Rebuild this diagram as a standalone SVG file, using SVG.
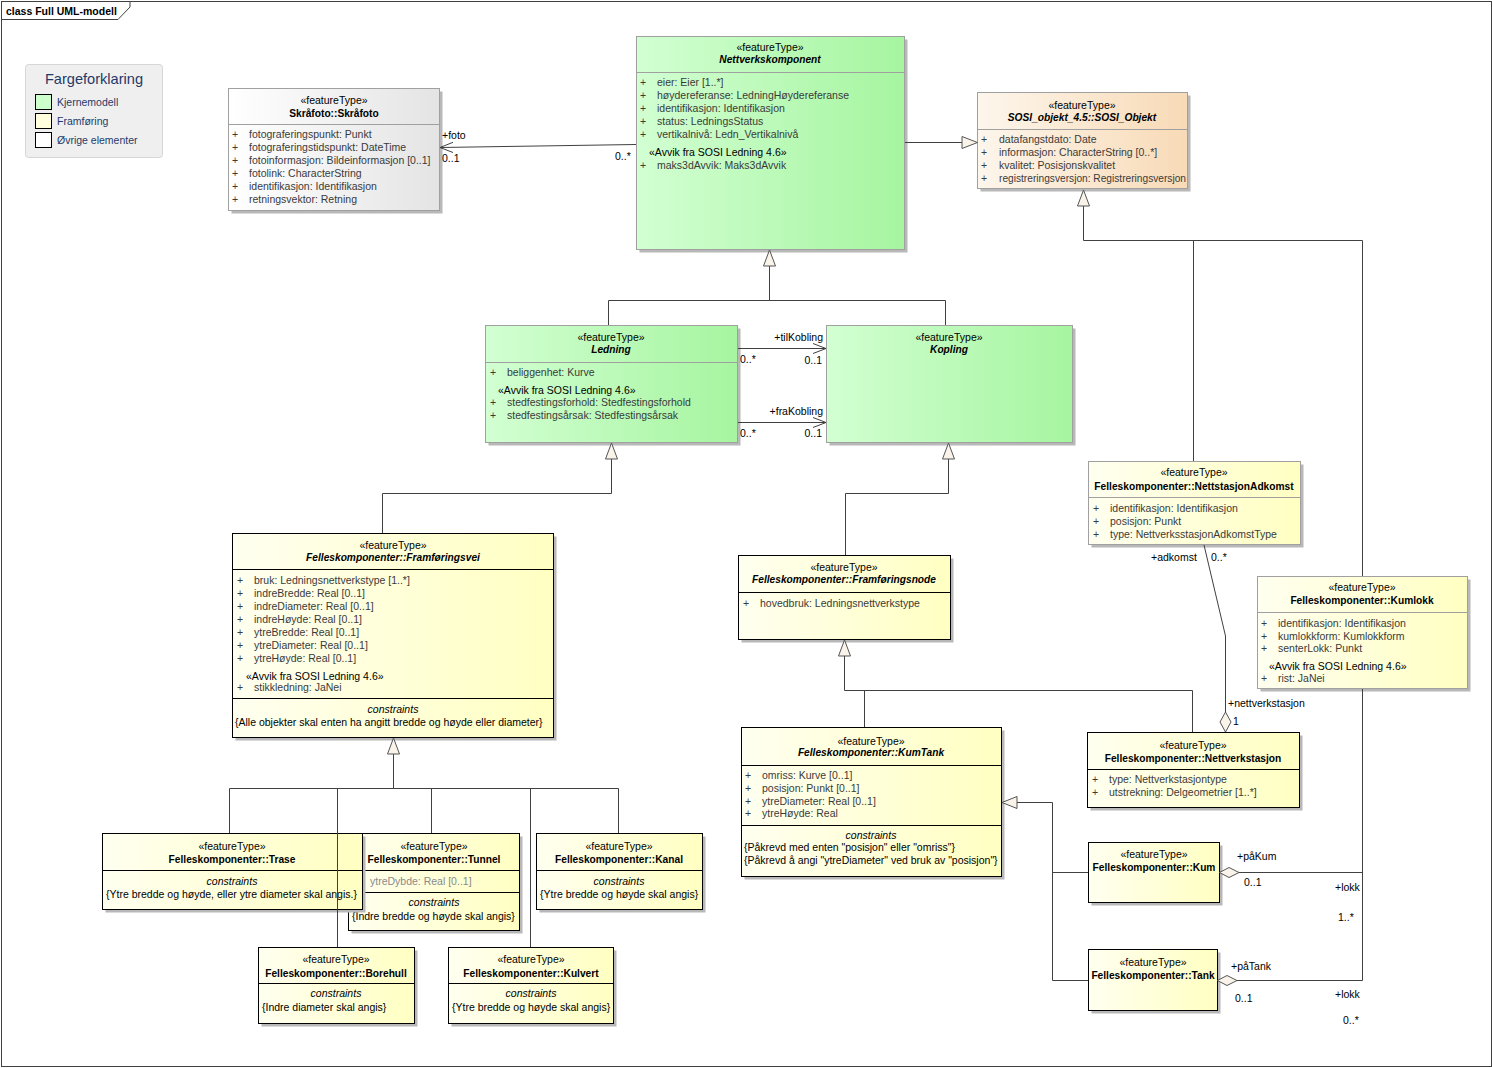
<svg xmlns="http://www.w3.org/2000/svg" width="1493" height="1068" viewBox="0 0 1493 1068">
<defs>
<linearGradient id="gG" x1="0" y1="0" x2="1" y2="0"><stop offset="0" stop-color="#d2ffd2"/><stop offset="1" stop-color="#a6f5a0"/></linearGradient>
<linearGradient id="gY" x1="0" y1="0" x2="1" y2="0"><stop offset="0" stop-color="#fffff0"/><stop offset="1" stop-color="#ffffc2"/></linearGradient>
<linearGradient id="gP" x1="0" y1="0" x2="1" y2="0"><stop offset="0" stop-color="#fdf6ec"/><stop offset="1" stop-color="#f8dab6"/></linearGradient>
<linearGradient id="gW" x1="0" y1="0" x2="1" y2="0"><stop offset="0" stop-color="#ffffff"/><stop offset="1" stop-color="#e4e4e4"/></linearGradient>
<style>
text{font-family:"Liberation Sans",Arial,sans-serif;font-size:10.5px;fill:#000}
.m{text-anchor:middle}
.e{text-anchor:end}
.b{font-weight:bold;font-size:10.2px}
.i{font-style:italic}
.at{fill:#3a3a3a}
.gr{fill:#8a8a8a}
.sh{fill:#b8b8b8}
.ng{stroke:#a0a0a0;stroke-width:1}
.nb{stroke:#000;stroke-width:1}
.dg{stroke:#a0a0a0;stroke-width:1}
.db{stroke:#000;stroke-width:1}
.cn{fill:none;stroke:#404040;stroke-width:1}
.tri{fill:#faf3ea;stroke:#555;stroke-width:1}
.lg{fill:#1f3a68}
</style>
</defs>
<rect x="0" y="0" width="1493" height="1068" fill="#fff"/>
<g id="frame">
<rect x="1.5" y="1.5" width="1490" height="1065" fill="none" stroke="#404040"/>
<path d="M1.5,19.5 H118 L130,7 V1.5" fill="none" stroke="#404040"/>
<text x="6" y="14.5" class="b" style="font-size:10.5px">class Full UML-modell</text>
</g>
<g id="legend">
<rect x="25.5" y="64.5" width="137" height="93" rx="3" fill="#efefef" stroke="#d6d6d6"/>
<text x="94" y="84" class="m lg" style="font-size:14.6px">Fargeforklaring</text>
<rect x="35.5" y="94.5" width="16" height="15" fill="#ccffcc" stroke="#000"/>
<rect x="35.5" y="113.5" width="16" height="15" fill="#ffffdd" stroke="#000"/>
<rect x="35.5" y="132.5" width="16" height="15" fill="#fff" stroke="#000"/>
<text x="57" y="106" class="lg">Kjernemodell</text>
<text x="57" y="125" class="lg">Framføring</text>
<text x="57" y="144" class="lg">Øvrige elementer</text>
</g>

<g id="skrafoto">
<rect class="sh" x="231.5" y="91.5" width="211" height="122"/>
<rect class="ng" x="228.5" y="88.5" width="211" height="122" fill="url(#gW)"/>
<line class="dg" x1="228.5" y1="124.5" x2="439.5" y2="124.5"/>
<text x="334" y="104" class="m">«featureType»</text>
<text x="334" y="116.5" class="m b">Skråfoto::Skråfoto</text>
<text x="232" y="138" class="at">+</text><text x="249" y="138" class="at">fotograferingspunkt: Punkt</text>
<text x="232" y="151" class="at">+</text><text x="249" y="151" class="at">fotograferingstidspunkt: DateTime</text>
<text x="232" y="164" class="at">+</text><text x="249" y="164" class="at">fotoinformasjon: Bildeinformasjon [0..1]</text>
<text x="232" y="177" class="at">+</text><text x="249" y="177" class="at">fotolink: CharacterString</text>
<text x="232" y="190" class="at">+</text><text x="249" y="190" class="at">identifikasjon: Identifikasjon</text>
<text x="232" y="203" class="at">+</text><text x="249" y="203" class="at">retningsvektor: Retning</text>
</g>

<g id="nettverkskomponent">
<rect class="sh" x="639.5" y="39.5" width="268" height="213"/>
<rect class="ng" x="636.5" y="36.5" width="268" height="213" fill="url(#gG)"/>
<line class="dg" x1="636.5" y1="72.5" x2="904.5" y2="72.5"/>
<text x="770" y="51" class="m">«featureType»</text>
<text x="770" y="63" class="m b i">Nettverkskomponent</text>
<text x="640" y="86" class="at">+</text><text x="657" y="86" class="at">eier: Eier [1..*]</text>
<text x="640" y="99" class="at">+</text><text x="657" y="99" class="at">høydereferanse: LedningHøydereferanse</text>
<text x="640" y="112" class="at">+</text><text x="657" y="112" class="at">identifikasjon: Identifikasjon</text>
<text x="640" y="125" class="at">+</text><text x="657" y="125" class="at">status: LedningsStatus</text>
<text x="640" y="138" class="at">+</text><text x="657" y="138" class="at">vertikalnivå: Ledn_Vertikalnivå</text>
<text x="649" y="155.5">«Avvik fra SOSI Ledning 4.6»</text>
<text x="640" y="168.5" class="at">+</text><text x="657" y="168.5" class="at">maks3dAvvik: Maks3dAvvik</text>
</g>

<g id="sosi-objekt">
<rect class="sh" x="980.5" y="95.5" width="210" height="96"/>
<rect class="ng" x="977.5" y="92.5" width="210" height="96" fill="url(#gP)"/>
<line class="dg" x1="977.5" y1="129.5" x2="1187.5" y2="129.5"/>
<text x="1082" y="108.5" class="m">«featureType»</text>
<text x="1082" y="121" class="m b i">SOSI_objekt_4.5::SOSI_Objekt</text>
<text x="981" y="143" class="at">+</text><text x="999" y="143" class="at">datafangstdato: Date</text>
<text x="981" y="156" class="at">+</text><text x="999" y="156" class="at">informasjon: CharacterString [0..*]</text>
<text x="981" y="169" class="at">+</text><text x="999" y="169" class="at">kvalitet: Posisjonskvalitet</text>
<text x="981" y="182" class="at">+</text><text x="999" y="182" class="at" textLength="187" lengthAdjust="spacingAndGlyphs">registreringsversjon: Registreringsversjon</text>
</g>

<g id="ledning">
<rect class="sh" x="488.5" y="328.5" width="252" height="117"/>
<rect class="ng" x="485.5" y="325.5" width="252" height="117" fill="url(#gG)"/>
<line class="dg" x1="485.5" y1="362.5" x2="737.5" y2="362.5"/>
<text x="611" y="341" class="m">«featureType»</text>
<text x="611" y="353" class="m b i">Ledning</text>
<text x="490" y="376" class="at">+</text><text x="507" y="376" class="at">beliggenhet: Kurve</text>
<text x="498" y="393.5">«Avvik fra SOSI Ledning 4.6»</text>
<text x="490" y="406" class="at">+</text><text x="507" y="406" class="at">stedfestingsforhold: Stedfestingsforhold</text>
<text x="490" y="419" class="at">+</text><text x="507" y="419" class="at">stedfestingsårsak: Stedfestingsårsak</text>
</g>

<g id="kopling">
<rect class="sh" x="829.5" y="328.5" width="246" height="117"/>
<rect class="ng" x="826.5" y="325.5" width="246" height="117" fill="url(#gG)"/>
<text x="949" y="341" class="m">«featureType»</text>
<text x="949" y="353" class="m b i">Kopling</text>
</g>

<g id="framforingsvei">
<rect class="sh" x="235.5" y="536.5" width="321" height="204"/>
<rect class="nb" x="232.5" y="533.5" width="321" height="204" fill="url(#gY)"/>
<line class="db" x1="232.5" y1="569.5" x2="553.5" y2="569.5"/>
<line class="db" x1="232.5" y1="698.5" x2="553.5" y2="698.5"/>
<text x="393" y="548.5" class="m">«featureType»</text>
<text x="393" y="560.5" class="m b i">Felleskomponenter::Framføringsvei</text>
<text x="237" y="584" class="at">+</text><text x="254" y="584" class="at">bruk: Ledningsnettverkstype [1..*]</text>
<text x="237" y="597" class="at">+</text><text x="254" y="597" class="at">indreBredde: Real [0..1]</text>
<text x="237" y="610" class="at">+</text><text x="254" y="610" class="at">indreDiameter: Real [0..1]</text>
<text x="237" y="623" class="at">+</text><text x="254" y="623" class="at">indreHøyde: Real [0..1]</text>
<text x="237" y="636" class="at">+</text><text x="254" y="636" class="at">ytreBredde: Real [0..1]</text>
<text x="237" y="649" class="at">+</text><text x="254" y="649" class="at">ytreDiameter: Real [0..1]</text>
<text x="237" y="662" class="at">+</text><text x="254" y="662" class="at">ytreHøyde: Real [0..1]</text>
<text x="246" y="679.5">«Avvik fra SOSI Ledning 4.6»</text>
<text x="237" y="691" class="at">+</text><text x="254" y="691" class="at">stikkledning: JaNei</text>
<text x="393" y="712.5" class="m i">constraints</text>
<text x="235" y="725.5">{Alle objekter skal enten ha angitt bredde og høyde eller diameter}</text>
</g>

<g id="framforingsnode">
<rect class="sh" x="741.5" y="558.5" width="212" height="84"/>
<rect class="nb" x="738.5" y="555.5" width="212" height="84" fill="url(#gY)"/>
<line class="db" x1="738.5" y1="592.5" x2="950.5" y2="592.5"/>
<text x="844" y="570.5" class="m">«featureType»</text>
<text x="844" y="582.5" class="m b i">Felleskomponenter::Framføringsnode</text>
<text x="743" y="606.5" class="at">+</text><text x="760" y="606.5" class="at">hovedbruk: Ledningsnettverkstype</text>
</g>

<g id="kumtank">
<rect class="sh" x="744.5" y="730.5" width="260" height="149"/>
<rect class="nb" x="741.5" y="727.5" width="260" height="149" fill="url(#gY)"/>
<line class="db" x1="741.5" y1="765.5" x2="1001.5" y2="765.5"/>
<line class="db" x1="741.5" y1="825.5" x2="1001.5" y2="825.5"/>
<text x="871" y="744.5" class="m">«featureType»</text>
<text x="871" y="755.5" class="m b i">Felleskomponenter::KumTank</text>
<text x="745" y="779" class="at">+</text><text x="762" y="779" class="at">omriss: Kurve [0..1]</text>
<text x="745" y="791.5" class="at">+</text><text x="762" y="791.5" class="at">posisjon: Punkt [0..1]</text>
<text x="745" y="804.5" class="at">+</text><text x="762" y="804.5" class="at">ytreDiameter: Real [0..1]</text>
<text x="745" y="817" class="at">+</text><text x="762" y="817" class="at">ytreHøyde: Real</text>
<text x="871" y="838.5" class="m i">constraints</text>
<text x="744" y="850.5">{Påkrevd med enten "posisjon" eller "omriss"}</text>
<text x="744" y="864">{Påkrevd å angi "ytreDiameter" ved bruk av "posisjon"}</text>
</g>

<g id="nettstasjonadkomst">
<rect class="sh" x="1091.5" y="464.5" width="212" height="83"/>
<rect class="ng" x="1088.5" y="461.5" width="212" height="83" fill="url(#gY)"/>
<line class="dg" x1="1088.5" y1="497.5" x2="1300.5" y2="497.5"/>
<text x="1194" y="476" class="m">«featureType»</text>
<text x="1194" y="489.5" class="m b">Felleskomponenter::NettstasjonAdkomst</text>
<text x="1093" y="511.5" class="at">+</text><text x="1110" y="511.5" class="at">identifikasjon: Identifikasjon</text>
<text x="1093" y="524.5" class="at">+</text><text x="1110" y="524.5" class="at">posisjon: Punkt</text>
<text x="1093" y="537.5" class="at">+</text><text x="1110" y="537.5" class="at">type: NettverksstasjonAdkomstType</text>
</g>

<g id="kumlokk">
<rect class="sh" x="1260.5" y="579.5" width="210" height="112"/>
<rect class="ng" x="1257.5" y="576.5" width="210" height="112" fill="url(#gY)"/>
<line class="dg" x1="1257.5" y1="612.5" x2="1467.5" y2="612.5"/>
<text x="1362" y="591" class="m">«featureType»</text>
<text x="1362" y="604" class="m b">Felleskomponenter::Kumlokk</text>
<text x="1261" y="626.5" class="at">+</text><text x="1278" y="626.5" class="at">identifikasjon: Identifikasjon</text>
<text x="1261" y="639.5" class="at">+</text><text x="1278" y="639.5" class="at">kumlokkform: Kumlokkform</text>
<text x="1261" y="652" class="at">+</text><text x="1278" y="652" class="at">senterLokk: Punkt</text>
<text x="1269" y="670">«Avvik fra SOSI Ledning 4.6»</text>
<text x="1261" y="682" class="at">+</text><text x="1278" y="682" class="at">rist: JaNei</text>
</g>

<g id="nettverkstasjon">
<rect class="sh" x="1090.5" y="735.5" width="212" height="75"/>
<rect class="nb" x="1087.5" y="732.5" width="212" height="75" fill="url(#gY)"/>
<line class="db" x1="1087.5" y1="769.5" x2="1299.5" y2="769.5"/>
<text x="1193" y="748.5" class="m">«featureType»</text>
<text x="1193" y="761.5" class="m b">Felleskomponenter::Nettverkstasjon</text>
<text x="1092" y="783" class="at">+</text><text x="1109" y="783" class="at">type: Nettverkstasjontype</text>
<text x="1092" y="796" class="at">+</text><text x="1109" y="796" class="at">utstrekning: Delgeometrier [1..*]</text>
</g>

<g id="kum">
<rect class="sh" x="1091.5" y="845.5" width="131" height="60"/>
<rect class="nb" x="1088.5" y="842.5" width="131" height="60" fill="url(#gY)"/>
<text x="1154" y="857.5" class="m">«featureType»</text>
<text x="1154" y="870.5" class="m b">Felleskomponenter::Kum</text>
</g>

<g id="tank">
<rect class="sh" x="1091.5" y="952.5" width="129" height="61"/>
<rect class="nb" x="1088.5" y="949.5" width="129" height="61" fill="url(#gY)"/>
<text x="1153" y="966" class="m">«featureType»</text>
<text x="1153" y="978.5" class="m b">Felleskomponenter::Tank</text>
</g>

<g id="tunnel">
<rect class="sh" x="351.5" y="836.5" width="171" height="97"/>
<rect class="nb" x="348.5" y="833.5" width="171" height="97" fill="url(#gY)"/>
<line class="db" x1="348.5" y1="870.5" x2="519.5" y2="870.5"/>
<line class="db" x1="348.5" y1="892.5" x2="519.5" y2="892.5"/>
<text x="434" y="849.5" class="m">«featureType»</text>
<text x="434" y="862.5" class="m b">Felleskomponenter::Tunnel</text>
<text x="370" y="884.5" class="gr">ytreDybde: Real [0..1]</text>
<text x="434" y="906" class="m i">constraints</text>
<text x="352" y="919.5">{Indre bredde og høyde skal angis}</text>
</g>

<g id="trase">
<rect class="sh" x="105.5" y="836.5" width="260" height="76"/>
<rect class="nb" x="102.5" y="833.5" width="260" height="76" fill="url(#gY)"/>
<line class="db" x1="102.5" y1="870.5" x2="362.5" y2="870.5"/>
<text x="232" y="849.5" class="m">«featureType»</text>
<text x="232" y="862.5" class="m b">Felleskomponenter::Trase</text>
<text x="232" y="884.5" class="m i">constraints</text>
<text x="106" y="897.5">{Ytre bredde og høyde, eller ytre diameter skal angis.}</text>
</g>

<g id="kanal">
<rect class="sh" x="539.5" y="836.5" width="166" height="76"/>
<rect class="nb" x="536.5" y="833.5" width="166" height="76" fill="url(#gY)"/>
<line class="db" x1="536.5" y1="870.5" x2="702.5" y2="870.5"/>
<text x="619" y="849.5" class="m">«featureType»</text>
<text x="619" y="862.5" class="m b">Felleskomponenter::Kanal</text>
<text x="619" y="884.5" class="m i">constraints</text>
<text x="540" y="897.5">{Ytre bredde og høyde skal angis}</text>
</g>

<g id="borehull">
<rect class="sh" x="261.5" y="950.5" width="156" height="76"/>
<rect class="nb" x="258.5" y="947.5" width="156" height="76" fill="url(#gY)"/>
<line class="db" x1="258.5" y1="983.5" x2="414.5" y2="983.5"/>
<text x="336" y="962.5" class="m">«featureType»</text>
<text x="336" y="976.5" class="m b">Felleskomponenter::Borehull</text>
<text x="336" y="997" class="m i">constraints</text>
<text x="262" y="1011">{Indre diameter skal angis}</text>
</g>

<g id="kulvert">
<rect class="sh" x="451.5" y="950.5" width="165" height="76"/>
<rect class="nb" x="448.5" y="947.5" width="165" height="76" fill="url(#gY)"/>
<line class="db" x1="448.5" y1="983.5" x2="613.5" y2="983.5"/>
<text x="531" y="962.5" class="m">«featureType»</text>
<text x="531" y="976.5" class="m b">Felleskomponenter::Kulvert</text>
<text x="531" y="997" class="m i">constraints</text>
<text x="452" y="1011">{Ytre bredde og høyde skal angis}</text>
</g>

<g id="connectors">
<line class="cn" x1="636" y1="144.5" x2="440" y2="147.5"/>
<polyline class="cn" points="453,142.3 440,147.5 453,152.5"/>
<text x="442" y="139">+foto</text>
<text x="442" y="162">0..1</text>
<text x="615" y="159.5">0..*</text>
<line class="cn" x1="905" y1="142.5" x2="962" y2="142.5"/>
<polygon class="tri" points="977.5,142.5 962,136.5 962,148.5"/>
<line class="cn" x1="738" y1="348.5" x2="826" y2="348.5"/>
<polyline class="cn" points="813,343.5 826,348.5 813,353.5"/>
<text x="823" y="340.5" class="e">+tilKobling</text>
<text x="740" y="363">0..*</text>
<text x="822" y="364" class="e">0..1</text>
<line class="cn" x1="738" y1="422.5" x2="826" y2="422.5"/>
<polyline class="cn" points="813,417.5 826,422.5 813,427.5"/>
<text x="823" y="414.5" class="e">+fraKobling</text>
<text x="740" y="437">0..*</text>
<text x="822" y="437" class="e">0..1</text>
<polyline class="cn" points="769.5,266 769.5,300.5"/>
<polyline class="cn" points="608.5,325 608.5,300.5 945.5,300.5 945.5,325"/>
<polygon class="tri" points="769.5,250 763.5,266 775.5,266"/>
<polyline class="cn" points="611.5,459 611.5,493.5 382.5,493.5 382.5,533"/>
<polygon class="tri" points="611.5,443 605.5,459 617.5,459"/>
<polyline class="cn" points="948.5,459 948.5,493.5 845.5,493.5 845.5,555"/>
<polygon class="tri" points="948.5,443 942.5,459 954.5,459"/>
<polyline class="cn" points="844.5,656 844.5,690.5 1192.5,690.5 1192.5,732"/>
<polyline class="cn" points="864.5,690.5 864.5,727"/>
<polygon class="tri" points="844.5,640 838.5,656 850.5,656"/>
<polyline class="cn" points="1083.5,206 1083.5,240.5 1362.5,240.5 1362.5,576"/>
<polyline class="cn" points="1193.5,240.5 1193.5,461"/>
<polygon class="tri" points="1083.5,190 1077.5,206 1089.5,206"/>
<polyline class="cn" points="1204,545 1225.5,636 1225.5,712"/>
<polygon class="tri" points="1225.5,712 1231,722 1225.5,732 1220,722"/>
<text x="1151" y="560.5">+adkomst</text>
<text x="1211" y="560.5">0..*</text>
<text x="1228" y="707">+nettverkstasjon</text>
<text x="1233" y="724.5">1</text>
<polyline class="cn" points="1017,802.5 1052.5,802.5 1052.5,980.5 1088,980.5"/>
<polyline class="cn" points="1052.5,872.5 1088,872.5"/>
<polygon class="tri" points="1002,802.5 1017,796.5 1017,808.5"/>
<polyline class="cn" points="1362.5,689 1362.5,980.5"/>
<line class="cn" x1="1239" y1="872.5" x2="1362.5" y2="872.5"/>
<polygon class="tri" points="1219.5,872.5 1229,867.5 1239,872.5 1229,877.5"/>
<text x="1237" y="859.5">+påKum</text>
<text x="1244" y="885.5">0..1</text>
<text x="1335" y="890.5">+lokk</text>
<text x="1338" y="920.5">1..*</text>
<line class="cn" x1="1237" y1="980.5" x2="1362.5" y2="980.5"/>
<polygon class="tri" points="1217.5,980.5 1227,975.5 1237,980.5 1227,985.5"/>
<text x="1231" y="969.5">+påTank</text>
<text x="1235" y="1001.5">0..1</text>
<text x="1335" y="998">+lokk</text>
<text x="1343" y="1023.5">0..*</text>
<polyline class="cn" points="393.5,754 393.5,788.5"/>
<polyline class="cn" points="229.5,833 229.5,788.5 618.5,788.5 618.5,833"/>
<polyline class="cn" points="337.5,788.5 337.5,947"/>
<polyline class="cn" points="431.5,788.5 431.5,833"/>
<polyline class="cn" points="530.5,788.5 530.5,947"/>
<polygon class="tri" points="393.5,738 387.5,754 399.5,754"/>
</g>
</svg>
